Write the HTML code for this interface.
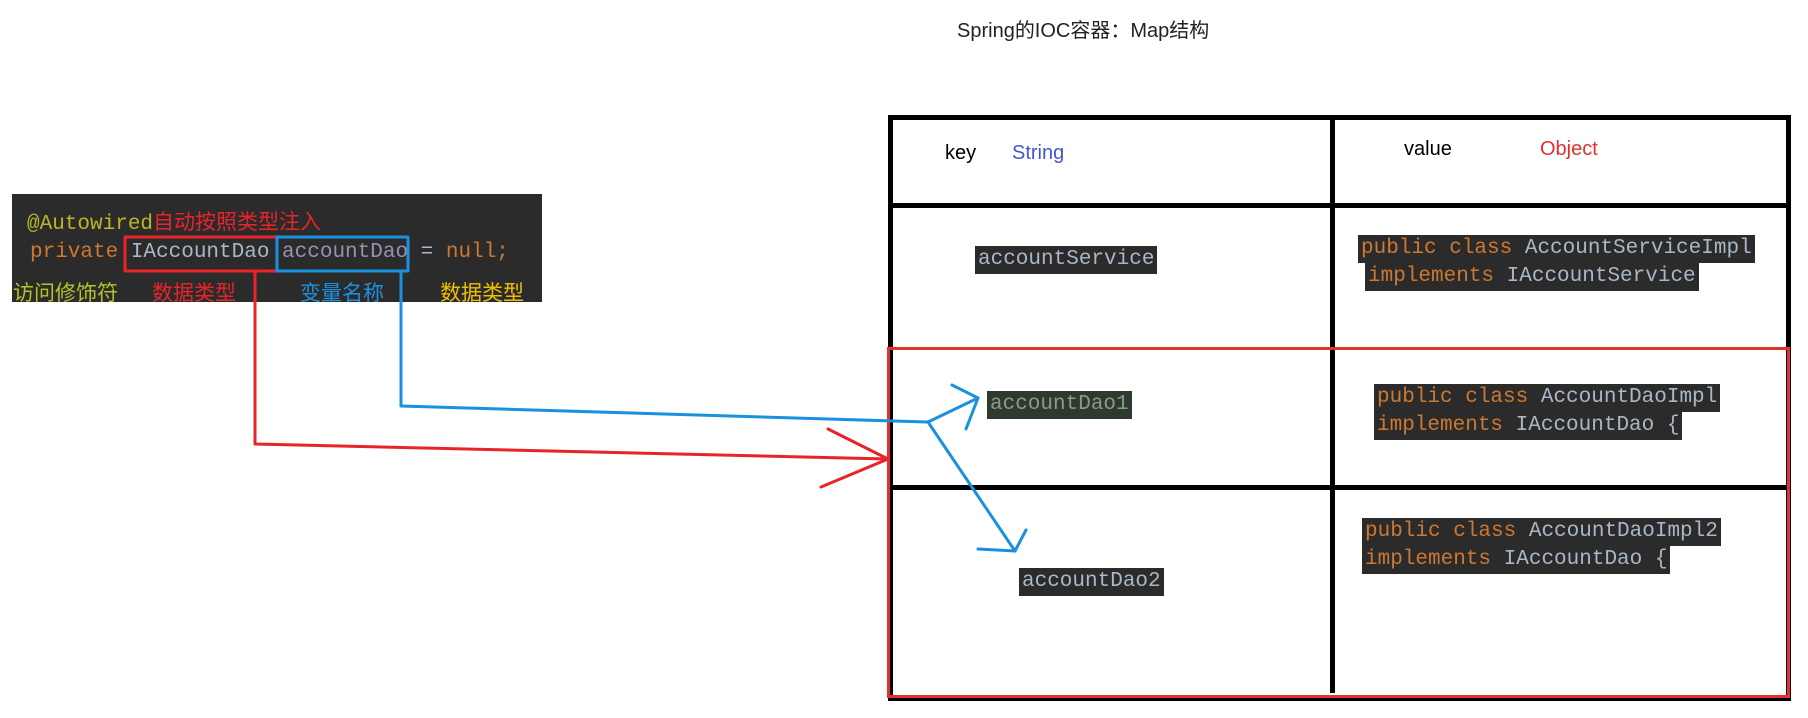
<!DOCTYPE html>
<html><head><meta charset="utf-8"><style>
body{margin:0;width:1808px;height:718px;background:#fff;position:relative;overflow:hidden;font-family:"Liberation Sans","Noto Sans CJK SC",sans-serif}
.a{position:absolute;white-space:nowrap}
.code{font-family:"Liberation Mono","Noto Sans CJK SC",monospace;font-size:21px;background:#2b2b2b;color:#a9b7c6;line-height:28px;padding:0 3px}
.lc{font-size:21px;line-height:30px}
.k{color:#cc7832}
.cl{font-size:21px;font-family:"Liberation Sans","Noto Sans CJK SC",sans-serif}
</style></head><body>
<div class="a" style="left:957px;top:14px;font-size:20px;color:#222">Spring的IOC容器：Map结构</div>

<div class="a" style="left:12px;top:194px;width:530px;height:108px;background:#2b2b2b"></div>
<div class="a code lc" style="left:27px;top:208px;background:none;color:#bbb529;padding:0">@Autowired<span class="cl" style="color:#e8242a">自动按照类型注入</span></div>
<div class="a code lc" style="left:30px;top:238px;background:none;padding:0"><span class="k">private</span> IAccountDao <span style="color:#9b8fb0">accountDao</span> = <span class="k">null;</span></div>
<div class="a cl" style="left:13px;top:277px;color:#b5c22a">访问修饰符</div>
<div class="a cl" style="left:152px;top:277px;color:#e8242a">数据类型</div>
<div class="a cl" style="left:300px;top:277px;color:#1e90e0">变量名称</div>
<div class="a cl" style="left:440px;top:277px;color:#f0c000">数据类型</div>

<div class="a" style="left:888px;top:115px;width:893px;height:576px;border:5px solid #000"></div>
<div class="a" style="left:1330px;top:118px;width:5px;height:575px;background:#000"></div>
<div class="a" style="left:888px;top:203px;width:900px;height:5px;background:#000"></div>
<div class="a" style="left:888px;top:485px;width:900px;height:5px;background:#000"></div>
<div class="a" style="left:887px;top:347px;width:897px;height:345px;border:3px solid #e53030"></div>

<div class="a" style="left:945px;top:142px;font-size:20px">key</div>
<div class="a" style="left:1012px;top:142px;font-size:20px;color:#4455cc">String</div>
<div class="a" style="left:1404px;top:138px;font-size:20px">value</div>
<div class="a" style="left:1540px;top:138px;font-size:20px;color:#e03030">Object</div>

<div class="a code" style="left:975px;top:246px;">accountService</div>
<div class="a code" style="left:1358px;top:235px;"><span class="k">public class</span> AccountServiceImpl</div>
<div class="a code" style="left:1365px;top:263px;"><span class="k">implements</span> IAccountService </div>
<div class="a code" style="left:987px;top:391px;background:#2f3a2f;color:#8a9a8a">accountDao1</div>
<div class="a code" style="left:1374px;top:384px;"><span class="k">public class</span> AccountDaoImpl</div>
<div class="a code" style="left:1374px;top:412px;"><span class="k">implements</span> IAccountDao { </div>
<div class="a code" style="left:1019px;top:568px;">accountDao2</div>
<div class="a code" style="left:1362px;top:518px;"><span class="k">public class</span> AccountDaoImpl2</div>
<div class="a code" style="left:1362px;top:546px;"><span class="k">implements</span> IAccountDao {  </div>

<svg class="a" style="left:0;top:0" width="1808" height="718">
<g fill="none" stroke-width="3" stroke-linecap="round" stroke-linejoin="round">
<rect x="125" y="237" width="152" height="34" stroke="#e8242a"/>
<rect x="277" y="237" width="131" height="34" stroke="#1a90e0"/>
<polyline points="255,271 255,444 888,459" stroke="#e8242a"/>
<polyline points="828,429 888,459 821,487" stroke="#e8242a"/>
<polyline points="401,271 401,406 928,422 978,398" stroke="#1a90e0"/>
<polyline points="952,385 978,398 966,429" stroke="#1a90e0"/>
<polyline points="928,422 1015,551" stroke="#1a90e0"/>
<polyline points="978,549 1015,551 1026,530" stroke="#1a90e0"/>
</g>
</svg>
</body></html>
